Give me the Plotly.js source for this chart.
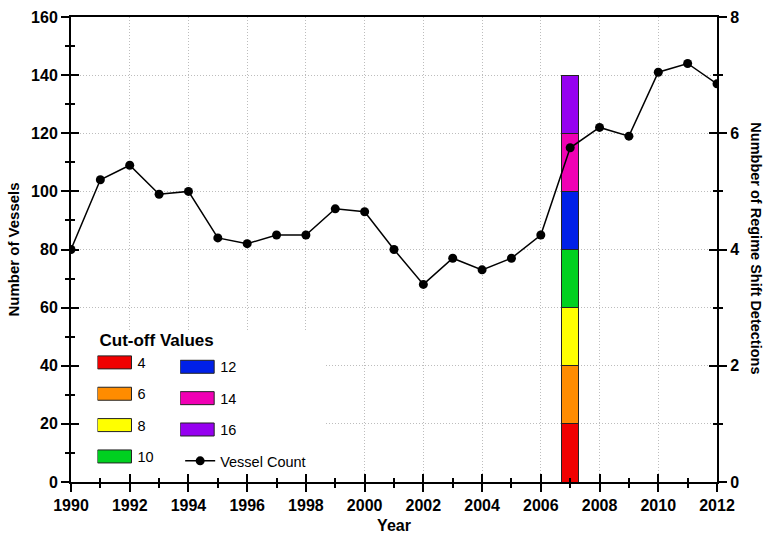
<!DOCTYPE html>
<html>
<head>
<meta charset="utf-8">
<script src="https://cdn.plot.ly/plotly-3.0.1.min.js"></script>
<style>html,body{margin:0;padding:0;background:#fff;}#chart{width:764px;height:534px;}</style>
</head>
<body>
<div id="chart"></div>
<script>
// ---- data ----
const years = [1990,1991,1992,1993,1994,1995,1996,1997,1998,1999,2000,2001,2002,2003,2004,2005,2006,2007,2008,2009,2010,2011,2012];
const vesselCount = [80,104,109,99,100,84,82,85,85,94,93,80,68,77,73,77,85,115,122,119,141,144,137];
const shiftYear = [2007];
const cutoffValues = ['4','6','8','10','12','14','16'];
const cutoffDetections = [1,1,1,1,1,1,1];
const cutoffColors = ['#f00000','#ff8c00','#ffff00','#00d020','#0020e8','#f000b4','#9600f0'];

const FONT = 'Liberation Sans, Arial, sans-serif';
const traces = [];
cutoffValues.forEach((c, i) => {
  traces.push({
    type: 'bar', name: c, x: shiftYear, y: [cutoffDetections[i]],
    xaxis: 'x', yaxis: 'y', width: 0.6,
    marker: {color: cutoffColors[i], line: {color: '#222', width: 1}},
    legend: i < 4 ? 'legend' : 'legend2', legendgroup: 'g' + i,
    hoverinfo: 'skip'
  });
});
traces.push({
  type: 'scatter', mode: 'lines+markers', name: 'Vessel Count',
  x: years, y: vesselCount, xaxis: 'x', yaxis: 'y2',
  line: {color: '#000', width: 1.5}, marker: {color: '#000', size: 9},
  legend: 'legend2', legendgroup: 'gv'
});
// invisible helpers so the inner-tick overlay axes get drawn
traces.push({type: 'scatter', mode: 'none', x: years, y: vesselCount, xaxis: 'x2', yaxis: 'y3', showlegend: false, hoverinfo: 'skip'});
traces.push({type: 'scatter', mode: 'none', x: years, y: vesselCount, xaxis: 'x', yaxis: 'y4', showlegend: false, hoverinfo: 'skip'});

const tickFont = {family: FONT, size: 16, color: '#000', weight: 'bold'};
const GRID = {showgrid: true, gridcolor: '#bdbdbd', griddash: '1px,2px', gridwidth: 1};
const layout = {
  width: 764, height: 534,
  margin: {l: 71, r: 47, t: 17, b: 52},
  paper_bgcolor: '#fff', plot_bgcolor: '#fff',
  barmode: 'stack',
  showlegend: true,
  font: {family: FONT, color: '#000'},
  xaxis: Object.assign({
    range: [1990, 2012], tick0: 1990, dtick: 2, ticks: 'outside', ticklen: 8, tickwidth: 2, tickcolor: '#000',
    showline: true, linewidth: 2, linecolor: '#000', mirror: true, zeroline: false,
    minor: {tick0: 1990, dtick: 1, ticks: 'outside', ticklen: 4, tickwidth: 2, tickcolor: '#000', showgrid: false},
    tickfont: tickFont,
    title: {text: 'Year', font: {family: FONT, size: 16, weight: 'bold', color: '#000'}, standoff: 8}
  }, GRID),
  xaxis2: {
    overlaying: 'x', anchor: 'y', side: 'bottom', range: [1990, 2012], tick0: 1990, dtick: 2,
    ticks: 'inside', ticklen: 8, tickwidth: 2, tickcolor: '#000', showticklabels: false,
    showline: false, showgrid: false, zeroline: false,
    minor: {tick0: 1990, dtick: 1, ticks: 'inside', ticklen: 4, tickwidth: 2, tickcolor: '#000', showgrid: false}
  },
  yaxis: {
    side: 'right', anchor: 'x', range: [0, 8], dtick: 2, ticks: 'outside', ticklen: 8, tickwidth: 2, tickcolor: '#000',
    showline: true, linewidth: 2, linecolor: '#000', zeroline: false, showgrid: false,
    minor: {dtick: 1, ticks: 'outside', ticklen: 4, tickwidth: 2, tickcolor: '#000', showgrid: false},
    tickfont: tickFont
  },
  yaxis2: Object.assign({
    overlaying: 'y', side: 'left', anchor: 'x', range: [0, 160], dtick: 20, ticks: 'outside', ticklen: 8, tickwidth: 2, tickcolor: '#000',
    showline: true, linewidth: 2, linecolor: '#000', zeroline: false,
    minor: {dtick: 10, ticks: 'outside', ticklen: 4, tickwidth: 2, tickcolor: '#000', showgrid: false},
    tickfont: tickFont,
    title: {text: 'Number of Vessels', font: {family: FONT, size: 15, weight: 'bold', color: '#000'}, standoff: 8}
  }, GRID),
  yaxis3: {
    overlaying: 'y', side: 'left', anchor: 'x2', range: [0, 160], dtick: 20, ticks: 'inside', ticklen: 8, tickwidth: 2, tickcolor: '#000',
    showticklabels: false, showline: false, showgrid: false, zeroline: false,
    minor: {dtick: 10, ticks: 'inside', ticklen: 4, tickwidth: 2, tickcolor: '#000', showgrid: false}
  },
  yaxis4: {
    overlaying: 'y', side: 'right', anchor: 'x', range: [0, 8], dtick: 2, ticks: 'inside', ticklen: 8, tickwidth: 2, tickcolor: '#000',
    showticklabels: false, showline: false, showgrid: false, zeroline: false,
    minor: {dtick: 1, ticks: 'inside', ticklen: 4, tickwidth: 2, tickcolor: '#000', showgrid: false}
  },
  legend: {
    x: 0.041, y: 0.339, xanchor: 'left', yanchor: 'top', bgcolor: 'rgba(0,0,0,0)', borderwidth: 0,
    orientation: 'v', traceorder: 'grouped', tracegroupgap: 9.5,
    font: {family: FONT, size: 14.5, color: '#000'},
    title: {text: 'Cut-off Values', font: {family: FONT, size: 17, weight: 'bold', color: '#000'}}
  },
  legend2: {
    x: 0.169, y: 0.282, xanchor: 'left', yanchor: 'top', bgcolor: 'rgba(0,0,0,0)', borderwidth: 0,
    orientation: 'v', traceorder: 'grouped', tracegroupgap: 9.5,
    font: {family: FONT, size: 14.5, color: '#000'}
  },
  // white legend panel that hides the grid behind the legend, as in the original
  shapes: [{
    type: 'rect', layer: 'between', xref: 'x', yref: 'y',
    x0: 1990.05, x1: 1998.65, y0: 0.03, y1: 2.58,
    fillcolor: '#fff', line: {width: 0}
  }],
  annotations: [{
    text: 'Numbber of Regime Shift Detections', textangle: 90,
    xref: 'paper', yref: 'paper', x: 1.060, y: 0.503, xanchor: 'center', yanchor: 'middle',
    showarrow: false, font: {family: FONT, size: 14.5, weight: 'bold', color: '#000'}
  }]
};

function widenSwatches() {
  document.querySelectorAll('g.legendpoints path').forEach(p => {
    const d = p.getAttribute('d') || '';
    if (d.replace(/\s/g, '') === 'M6,6H-6V-6H6Z') p.setAttribute('d', 'M14,6.5H-20V-6.5H14Z');
  });
}
Plotly.newPlot('chart', traces, layout, {displayModeBar: false, staticPlot: true}).then(() => {
  widenSwatches();
  setTimeout(widenSwatches, 50);
});
</script>
</body>
</html>
